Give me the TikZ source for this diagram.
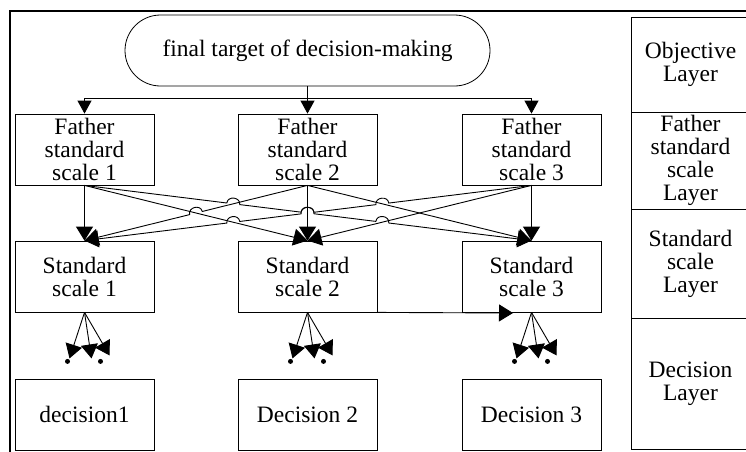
\documentclass[tikz,border=0pt]{standalone}
\usepackage{fontspec}
\setmainfont{Liberation Serif}
\newfontfamily\tnr{Liberation Serif}
\usetikzlibrary{arrows.meta,calc,shapes.misc}
\begin{document}
\begin{tikzpicture}[x=1pt,y=-1pt,
  txt/.style={font=\tnr\fontsize{23.5}{23}\selectfont},
  box/.style={txt, draw, line width=0.8pt, minimum width=139pt, minimum height=71pt, inner sep=0pt, align=center},
  layerbox/.style={txt, draw, line width=0.8pt, minimum width=119pt, inner sep=0pt, align=center},
  conn/.style={line width=0.9pt},
  arr/.style={line width=0.9pt, -{Triangle[length=14pt,width=17pt]}},
  hopl/.style={bend left=90, looseness=1.5},
  hopr/.style={bend right=90, looseness=1.5}]
\useasboundingbox (0,0) rectangle (746,451);

% outer frame
\draw[line width=2pt] (10,452) -- (10,11) -- (748,11);

% goal
\node[txt, draw, line width=0.8pt, rounded rectangle, minimum width=365pt, minimum height=71pt, inner sep=0pt] (goal) at (307.5,50.5) {final target of decision-making};

% father row
\node[box] (F1) at (84.5,149.5) {Father\\standard\\scale 1};
\node[box] (F2) at (307.5,149.5) {Father\\standard\\scale 2};
\node[box] (F3) at (531.5,149.5) {Father\\standard\\scale 3};
% standard row
\node[box] (S1) at (84.5,276.5) {Standard\\scale 1};
\node[box] (S2) at (307.5,276.5) {Standard\\scale 2};
\node[box] (S3) at (531.5,276.5) {Standard\\scale 3};
% decisions
\node[box] (D1) at (84.5,414.5) {decision1};
\node[box] (D2) at (307.5,414.5) {Decision 2};
\node[box] (D3) at (531.5,414.5) {Decision 3};

% layer column
\node[layerbox, minimum height=95pt] (L1) at (690.5,64.5) {Objective\\Layer};
\node[layerbox, minimum height=97pt] (L2) at (690.5,160.5) {Father\\standard\\scale\\Layer};
\node[layerbox, minimum height=109pt] (L3) at (690.5,263.5) {Standard\\scale\\Layer};
\node[layerbox, minimum height=131pt] (L4) at (690.5,383.5) {Decision\\Layer};

% goal -> fathers
\coordinate (bus) at (307.5,98);
\draw[conn] (goal.south) -- (bus);
\draw[conn] (F1.north |- bus) -- (F3.north |- bus);
\foreach \i in {1,2,3} {\draw[conn, -{Triangle[length=13pt,width=14pt]}] (F\i.north |- bus) -- (F\i.north);}

% fathers -> standards
\foreach \i in {1,2,3} {
  \coordinate (f\i) at (F\i.south);
  \coordinate (s\i) at (S\i.north);
}
\coordinate (xa) at (intersection of f1--s3 and f2--s1);
\coordinate (xb) at (intersection of f1--s3 and f2--s2);
\coordinate (xc) at (intersection of f1--s3 and f3--s2);
\coordinate (xd) at (intersection of f3--s1 and f2--s3);
\coordinate (xe) at (intersection of f3--s1 and f2--s2);
\coordinate (xf) at (intersection of f3--s1 and f1--s2);
\coordinate (xg) at (intersection of f2--s1 and f1--s2);

\foreach \i in {1,2,3} {\draw[arr] (f\i) -- (s\i);}
\draw[arr] (f1) -- (s2);
\draw[arr] (f2) -- (s3);
\draw[arr] (f3) -- (s2);
\draw[arr] (f2) -- ($(xg)!6.5pt!(f2)$) to[hopr] ($(xg)!6.5pt!(s1)$) -- (s1);
\draw[arr] (f1) -- ($(xa)!6.5pt!(f1)$) to[hopl] ($(xa)!6.5pt!(s3)$)
  -- ($(xb)!6.5pt!(f1)$) to[hopl] ($(xb)!6.5pt!(s3)$)
  -- ($(xc)!6.5pt!(f1)$) to[hopl] ($(xc)!6.5pt!(s3)$) -- (s3);
\draw[arr] (f3) -- ($(xd)!6.5pt!(f3)$) to[hopr] ($(xd)!6.5pt!(s1)$)
  -- ($(xe)!6.5pt!(f3)$) to[hopr] ($(xe)!6.5pt!(s1)$)
  -- ($(xf)!6.5pt!(f3)$) to[hopr] ($(xf)!6.5pt!(s1)$) -- (s1);

% standard 2 -> standard 3
\coordinate (s3in) at (513,313);
\draw[arr] (S2.south east) -- (s3in);

% standards -> decisions (fans)
\foreach \i in {1,2,3} {
  \coordinate (t\i a) at ($(S\i.south)+(-15,46)$);
  \coordinate (t\i b) at ($(S\i.south)+(7,46)$);
  \coordinate (t\i c) at ($(S\i.south)+(25,43)$);
  \draw[arr] (S\i.south) -- (t\i a);
  \draw[arr] (S\i.south) -- (t\i b);
  \draw[arr] (S\i.south) -- (t\i c);
  \fill ($(S\i.south)+(-17,49)$) circle (2.5pt);
  \fill ($(S\i.south)+(16,49)$) circle (2.5pt);
}
\end{tikzpicture}
\end{document}
